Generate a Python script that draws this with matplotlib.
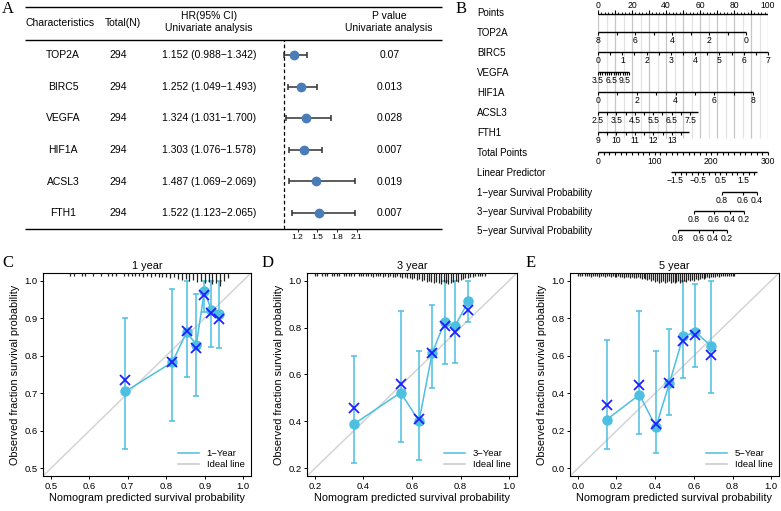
import matplotlib.pyplot as plt
import numpy as np
from matplotlib.lines import Line2D

plt.rcParams['font.family'] = ['Liberation Sans', 'DejaVu Sans']

# ---------------- data ----------------
# A: univariate Cox table
genes = ['TOP2A', 'BIRC5', 'VEGFA', 'HIF1A', 'ACSL3', 'FTH1']
n_total = [294, 294, 294, 294, 294, 294]
hr = [1.152, 1.252, 1.324, 1.303, 1.487, 1.522]
hr_lo = [0.988, 1.049, 1.031, 1.076, 1.069, 1.123]
hr_hi = [1.342, 1.493, 1.700, 1.578, 2.069, 2.065]
pvals = ['0.07', '0.013', '0.028', '0.007', '0.019', '0.007']
hr_ticks = [1.2, 1.5, 1.8, 2.1]

# B: nomogram scales (value range -> points range)
top2a_range, top2a_pts = (8, 0), (0, 87.1)
top2a_ticks = [8, 7, 6, 5, 4, 3, 2, 1, 0]
top2a_labels = [8, 6, 4, 2, 0]
birc5_range, birc5_pts = (0, 7), (0, 100)
birc5_ticks = list(np.arange(0, 7.01, 0.5))
birc5_labels = [0, 1, 2, 3, 4, 5, 6, 7]
vegfa_range, vegfa_pts = (3.5, 10.5), (0, 18.5)
vegfa_ticks = list(np.arange(3.5, 10.51, 0.5))
vegfa_labels = [3.5, 6.5, 9.5]
hif1a_range, hif1a_pts = (0, 8), (0, 91.2)
hif1a_ticks = [0, 1, 2, 3, 4, 5, 6, 7, 8]
hif1a_labels = [0, 2, 4, 6, 8]
acsl3_range, acsl3_pts = (2.5, 7.93), (0, 58.8)
acsl3_ticks = list(np.arange(2.5, 7.51, 0.5))
acsl3_labels = [2.5, 3.5, 4.5, 5.5, 6.5, 7.5]
fth1_range, fth1_pts = (9, 13.9), (0, 53.3)
fth1_ticks = list(np.arange(9, 13.51, 0.5))
fth1_labels = [9, 10, 11, 12, 13]

total_labels = [0, 100, 200, 300]
lp_range = (-1.7, 2.1)          # linear predictor span
lp_total = (196, 40)            # total points at lp=0, points per lp unit
lp_ticks = list(np.arange(-1.5, 2.01, 0.25))
lp_labels = [-1.5, -0.5, 0.5, 1.5]
surv1_labels = ['0.8', '0.6', '0.4']
surv1_total = [218.8, 255.9, 280.6]
surv3_labels = ['0.8', '0.6', '0.4', '0.2']
surv3_total = [169.4, 204.7, 232.9, 257.6]
surv5_labels = ['0.8', '0.6', '0.4', '0.2']
surv5_total = [141.2, 178.2, 202.9, 227.6]

# C-E: calibration curves
c_pred = [0.694, 0.816, 0.853, 0.878, 0.899, 0.917, 0.938]
c_obs = [0.705, 0.783, 0.863, 0.829, 0.972, 0.922, 0.912]
c_lo = [0.552, 0.626, 0.743, 0.693, 0.915, 0.823, 0.820]
c_hi = [0.900, 0.977, 1.0, 0.965, 1.0, 1.0, 1.0]
c_corr = [0.736, 0.783, 0.867, 0.820, 0.962, 0.913, 0.898]
c_rug = [1, 1, 0, 1, 1, 0, 1, 0, 1, 0, 1, 1, 1, 0, 1, 1, 1, 1, 1, 2, 1, 2, 1, 2, 2,
         2, 3, 2, 4, 5, 4, 6, 5, 7, 6, 8, 7, 9, 8, 10, 6, 3]   # from 0.55, step 0.01

d_pred = [0.360, 0.553, 0.629, 0.683, 0.734, 0.777, 0.832]
d_obs = [0.388, 0.523, 0.402, 0.691, 0.823, 0.806, 0.912]
d_lo = [0.224, 0.313, 0.235, 0.542, 0.646, 0.650, 0.823]
d_hi = [0.678, 0.870, 0.698, 0.897, 1.0, 1.0, 1.0]
d_corr = [0.458, 0.558, 0.412, 0.691, 0.806, 0.779, 0.875]
d_rug = [1, 1, 0, 1, 1, 1, 0, 1, 1, 1, 1, 0, 1, 1, 1, 1, 1, 0, 1, 1,
         1, 1, 1, 1, 2, 1, 1, 1, 2, 1, 2, 1, 2, 2, 1, 2, 3, 2, 3, 3,
         4, 3, 5, 4, 6, 5, 7, 6, 7, 8, 7, 8, 9, 7, 8, 9, 8, 7, 6, 7,
         5, 4, 3, 3, 2, 2, 1, 1, 1, 1, 1]   # from 0.20, step 0.01

e_pred = [0.150, 0.319, 0.404, 0.474, 0.545, 0.608, 0.690]
e_obs = [0.260, 0.393, 0.221, 0.455, 0.703, 0.726, 0.651]
e_lo = [0.101, 0.186, 0.080, 0.283, 0.481, 0.540, 0.402]
e_hi = [0.685, 0.837, 0.625, 0.743, 1.0, 0.982, 1.0]
e_corr = [0.336, 0.442, 0.239, 0.455, 0.678, 0.708, 0.602]
e_rug = [1, 1, 1, 0, 1, 1, 1, 2, 1, 1, 1, 2, 1, 1, 2, 1, 1, 2, 1, 2,
         2, 1, 2, 2, 3, 2, 2, 3, 2, 3, 3, 2, 3, 4, 3, 4, 5, 4, 6, 5,
         7, 6, 8, 7, 6, 8, 7, 6, 8, 7, 8, 7, 6, 8, 7, 6, 7, 5, 6, 5,
         6, 4, 5, 4, 3, 4, 3, 2, 3, 2, 2, 2, 1, 2, 1, 1, 1, 1, 1, 1,
         1, 1]   # from 0.00, step 0.01

# ---------------- figure ----------------
W, H = 781, 511
fig = plt.figure(figsize=(W / 100, H / 100), dpi=100)


def px_axes(l, t, r, b):
    return fig.add_axes([l / W, 1 - b / H, (r - l) / W, (b - t) / H])


ov = px_axes(0, 0, W, H)
ov.set_xlim(0, W)
ov.set_ylim(H, 0)
ov.axis('off')

serif = ['Liberation Serif', 'DejaVu Serif']
for lab, x, y in [('A', 8, 9), ('B', 461, 9), ('C', 8, 263), ('D', 268, 263), ('E', 531, 263)]:
    ov.text(x, y, lab, family=serif, fontsize=12, ha='center', va='center')

# ---------------- A: table + forest ----------------
fs = 7.5
row_y = [55, 87, 118, 150, 182, 213]
ov.hlines([7.5, 40, 229], 25, 442, color='black', lw=1)
ov.text(60, 23, 'Characteristics', fontsize=fs, ha='center', va='center')
ov.text(123, 23, 'Total(N)', fontsize=fs, ha='center', va='center')
ov.text(209, 22, 'HR(95% CI)\nUnivariate analysis', fontsize=fs, ha='center',
        va='center', linespacing=1.25)
ov.text(389, 22, 'P value\nUnivariate analysis', fontsize=fs, ha='center',
        va='center', linespacing=1.25)
for i, g in enumerate(genes):
    y = row_y[i]
    ov.text(63, y, g, fontsize=fs, ha='center', va='center')
    ov.text(118, y, str(n_total[i]), fontsize=fs, ha='center', va='center')
    ov.text(209, y, f'{hr[i]:.3f} ({hr_lo[i]:.3f}\u2212{hr_hi[i]:.3f})',
            fontsize=fs, ha='center', va='center')
    ov.text(390, y, pvals[i], fontsize=fs, ha='center', va='center')

fa = px_axes(262, 40, 380, 229)
rows = np.arange(len(genes))
fa.set_ylim(5.506, -0.475)
fa.set_xlim(0.662, 2.45)
hr_a = np.array(hr)
fa.errorbar(hr_a, rows, xerr=[hr_a - np.array(hr_lo), np.array(hr_hi) - hr_a],
            fmt='o', color='#4a7cb8', ecolor='#303030', elinewidth=1.1,
            capsize=2.5, capthick=1.1, markersize=6, zorder=3)
fa.axvline(1, color='black', ls=(0, (3, 2)), lw=0.9)
for s in fa.spines.values():
    s.set_visible(False)
fa.set_yticks([])
fa.set_xticks(hr_ticks)
fa.set_xticklabels([f'{t:.1f}' for t in hr_ticks])
fa.tick_params(axis='x', length=2, width=0.6, labelsize=6, pad=1.5)
fa.patch.set_alpha(0)

# ---------------- B: nomogram ----------------
na = px_axes(598, 0, 768, 250)
na.set_xlim(0, 100)
na.set_ylim(250, 0)
na.axis('off')

nomo_names = ['Points', 'TOP2A', 'BIRC5', 'VEGFA', 'HIF1A', 'ACSL3', 'FTH1',
              'Total Points', 'Linear Predictor', '1\u2212year Survival Probability',
              '3\u2212year Survival Probability', '5\u2212year Survival Probability']
nomo_y = [13, 33, 53, 73, 93, 113, 133, 153, 173, 193, 212, 231]
for name, y in zip(nomo_names, nomo_y):
    ov.text(477, y, name, fontsize=7, ha='left', va='center')

for p in range(0, 101, 5):
    na.vlines(p, 14, 138, color='#c6c6c6' if p % 10 == 0 else '#e2e2e2', lw=0.9, zorder=0)

tfs = 6.2


def fmt(v):
    s = f'{v:g}'
    return s.replace('-', '\u2212')


def draw_scale(y, x_line, x_ticks, x_labels, labels):
    na.hlines(y, x_line[0], x_line[1], color='black', lw=1.0, clip_on=False)
    na.vlines(x_ticks, y, y + 3, color='black', lw=0.8, clip_on=False)
    for x, lab in zip(x_labels, labels):
        na.text(x, y + 8.5, lab, fontsize=tfs, ha='center', va='center', clip_on=False)


# points axis (ticks up)
na.hlines(14, 0, 100, color='black', lw=1.0)
na.vlines(np.arange(0, 101, 10), 10.5, 14, color='black', lw=0.8)
na.vlines(np.arange(0, 101, 2), 12, 14, color='black', lw=0.6)
for v in range(0, 101, 20):
    na.text(v, 5, str(v), fontsize=tfs, ha='center', va='center')

var_scales = [
    (top2a_range, top2a_pts, top2a_ticks, top2a_labels),
    (birc5_range, birc5_pts, birc5_ticks, birc5_labels),
    (vegfa_range, vegfa_pts, vegfa_ticks, vegfa_labels),
    (hif1a_range, hif1a_pts, hif1a_ticks, hif1a_labels),
    (acsl3_range, acsl3_pts, acsl3_ticks, acsl3_labels),
    (fth1_range, fth1_pts, fth1_ticks, fth1_labels),
]
for k, (vr, pr, tk, lb) in enumerate(var_scales):
    def to_pts(v, vr=vr, pr=pr):
        return pr[0] + (np.asarray(v, dtype=float) - vr[0]) / (vr[1] - vr[0]) * (pr[1] - pr[0])
    draw_scale(nomo_y[k + 1] - 1, (pr[0], pr[1]), to_pts(tk), to_pts(lb), [fmt(v) for v in lb])

# total points
draw_scale(nomo_y[7] - 0.5, (0, 100), np.arange(0, 301, 10) / 3,
           np.array(total_labels) / 3, [str(v) for v in total_labels])
# linear predictor
lp2x = lambda v: (lp_total[0] + lp_total[1] * np.asarray(v)) / 3
draw_scale(nomo_y[8] - 1, lp2x(lp_range), lp2x(lp_ticks), lp2x(lp_labels),
           [fmt(v) for v in lp_labels])
# survival probabilities
for k, (lb, tot) in enumerate([(surv1_labels, surv1_total), (surv3_labels, surv3_total),
                               (surv5_labels, surv5_total)]):
    xs = np.array(tot) / 3
    draw_scale(nomo_y[9 + k] - 1, (xs[0], xs[-1]), xs, xs, lb)

# ---------------- C-E: calibration ----------------
blue = '#4dbfe0'
panels = [
    ((43, 273, 251, 476), c_pred, c_obs, c_lo, c_hi, c_corr, 0.55, c_rug,
     (0.5, 1.0), np.arange(0.5, 1.01, 0.1), '1 year', '1\u2212Year'),
    ((307, 273, 517, 476), d_pred, d_obs, d_lo, d_hi, d_corr, 0.20, d_rug,
     (0.2, 1.0), np.arange(0.2, 1.01, 0.2), '3 year', '3\u2212Year'),
    ((570, 273, 779, 476), e_pred, e_obs, e_lo, e_hi, e_corr, 0.0, e_rug,
     (0.0, 1.0), np.arange(0.0, 1.01, 0.2), '5 year', '5\u2212Year'),
]
for rect, pred, obs, lo, hi, corr, rstart, rug, lim, ticks, title, lab in panels:
    ax = px_axes(*rect)
    pad = (lim[1] - lim[0]) * 0.04
    ax.set_xlim(lim[0] - pad, lim[1] + pad)
    ax.set_ylim(lim[0] - pad, lim[1] + pad)
    ax.plot([-0.1, 1.1], [-0.1, 1.1], color='#d4d4d4', lw=1.1, zorder=1)
    pred_a, obs_a = np.array(pred), np.array(obs)
    ax.errorbar(pred_a, obs_a, yerr=[obs_a - np.array(lo), np.array(hi) - obs_a],
                fmt='none', ecolor=blue, elinewidth=1.1, capsize=2.2, capthick=1.1, zorder=2)
    ax.plot(pred_a, obs_a, color=blue, lw=1.1, marker='o', markersize=6.5, zorder=3)
    ax.plot(pred_a, corr, ls='none', marker='x', color='#1f1fff', markersize=7,
            mew=1.3, zorder=4)
    # rug of predicted probabilities hanging from the top
    rx = rstart + 0.01 * np.arange(len(rug))
    hpx = np.array(rug, dtype=float)
    keep = hpx > 0
    frac = (hpx[keep] * 1.1 + 1.5) / 203
    ax.vlines(rx[keep], 1 - frac, 1, transform=ax.get_xaxis_transform(),
              color='#222222', lw=0.9, zorder=5)
    ax.set_xticks(ticks)
    ax.set_yticks(ticks)
    ax.set_xticklabels([f'{t:.1f}' for t in ticks])
    ax.set_yticklabels([f'{t:.1f}' for t in ticks])
    ax.tick_params(length=2.5, width=0.7, labelsize=6.8, pad=1.5)
    for s in ax.spines.values():
        s.set_linewidth(0.8)
    ax.set_title(title, fontsize=7.8, pad=3)
    ax.set_xlabel('Nomogram predicted survival probability', fontsize=7.8, labelpad=2)
    ax.set_ylabel('Observed fraction survival probability', fontsize=7.8, labelpad=3)
    handles = [Line2D([], [], color=blue, lw=1.1), Line2D([], [], color='#c8c8c8', lw=1.1)]
    ax.legend(handles, [lab, 'Ideal line'], loc='lower right', frameon=False,
              fontsize=6.8, handlelength=2.2, labelspacing=0.2, borderaxespad=0.3,
              handletextpad=0.8)

fig.savefig('out.png', dpi=100)
